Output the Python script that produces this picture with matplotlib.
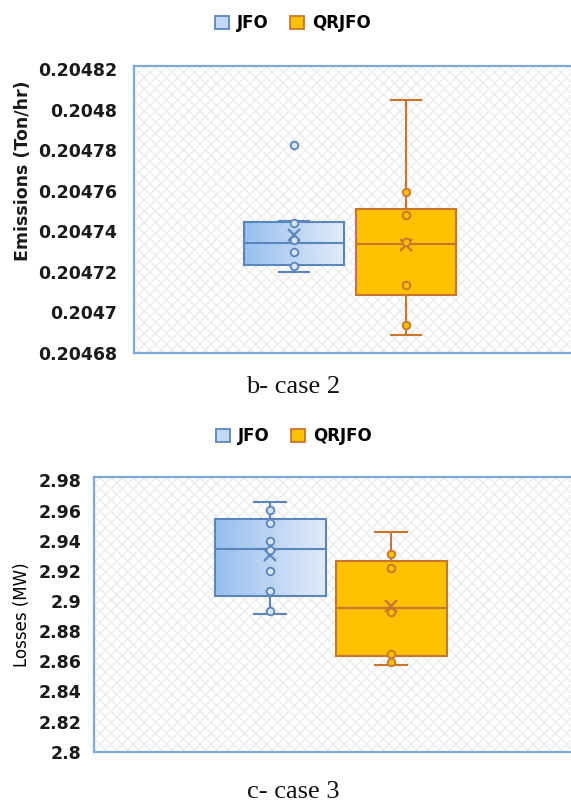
import numpy as np
import matplotlib
matplotlib.use("Agg")
import matplotlib.pyplot as plt
from matplotlib.patches import Patch, Rectangle
from matplotlib.colors import LinearSegmentedColormap

# ---------------- data ----------------
series = ["JFO", "QRJFO"]

# case 2 : emissions (Ton/hr)
emis_q1 = [0.2047234, 0.2047084]
emis_med = [0.2047339, 0.2047334]
emis_q3 = [0.2047443, 0.2047507]
emis_lo = [0.2047198, 0.2046888]
emis_hi = [0.2047449, 0.2048045]
emis_mean = [0.2047380, 0.2047331]
emis_pts_jfo = [0.2047826, 0.2047438, 0.2047356, 0.2047296, 0.2047226]
emis_pts_qrjfo = [0.2047594, 0.2047480, 0.2047347, 0.2047135, 0.2046936]
emis_ticks = [0.20468, 0.2047, 0.20472, 0.20474, 0.20476, 0.20478, 0.2048, 0.20482]
emis_ticklabels = ["0.20468", "0.2047", "0.20472", "0.20474", "0.20476", "0.20478", "0.2048", "0.20482"]

# case 3 : losses (MW)
loss_q1 = [2.9031, 2.8633]
loss_med = [2.9342, 2.8956]
loss_q3 = [2.9541, 2.9268]
loss_lo = [2.8917, 2.8576]
loss_hi = [2.9656, 2.9456]
loss_mean = [2.9308, 2.8965]
loss_pts_jfo = [2.9607, 2.9521, 2.9399, 2.9337, 2.9202, 2.9069, 2.8932]
loss_pts_qrjfo = [2.9315, 2.9220, 2.8925, 2.8651, 2.8596]
loss_ticks = [2.8, 2.82, 2.84, 2.86, 2.88, 2.9, 2.92, 2.94, 2.96, 2.98]
loss_ticklabels = ["2.8", "2.82", "2.84", "2.86", "2.88", "2.9", "2.92", "2.94", "2.96", "2.98"]

# ---------------- style ----------------
W, H = 571, 809
FONT = ["DejaVu Sans"]
blue_edge = "#5A86BE"
orange_fill = "#FFC000"
orange_edge = "#CB742C"
frame_col = "#7FA9DC"
hatch_col = "#ececec"
grad = LinearSegmentedColormap.from_list("g", ["#97BFEF", "#E1EBF9"])

plt.rcParams["font.family"] = FONT
plt.rcParams["hatch.linewidth"] = 1.0

fig = plt.figure(figsize=(W / 100, H / 100), dpi=100)


def px_axes(left, top, right, bottom):
    return fig.add_axes([left / W, 1 - bottom / H, (right - left) / W, (bottom - top) / H])


def draw_panel(ax, q1, med, q3, lo, hi, mean, pts_jfo, pts_qr, widths, capw, xlim, ylim,
               ticks, ticklabels, pad):
    positions = [1, 2]
    stats = []
    for i in range(2):
        stats.append(dict(med=med[i], q1=q1[i], q3=q3[i], whislo=lo[i], whishi=hi[i],
                          mean=mean[i], fliers=[]))
    # background hatch
    ax.add_patch(Rectangle((0, 0), 1, 1, transform=ax.transAxes, facecolor="white",
                           edgecolor=hatch_col, hatch="xxx", linewidth=0, zorder=0))
    for i, (col_edge, col_face) in enumerate([(blue_edge, "none"), (orange_edge, orange_fill)]):
        bp = ax.bxp([stats[i]], positions=[positions[i]], widths=widths, patch_artist=True,
                    showmeans=True, showfliers=False, capwidths=capw,
                    boxprops=dict(facecolor=col_face, edgecolor=col_edge, linewidth=1.5),
                    whiskerprops=dict(color=col_edge, linewidth=1.5),
                    capprops=dict(color=col_edge, linewidth=1.5),
                    medianprops=dict(color=col_edge, linewidth=1.5),
                    meanprops=dict(marker="x", markeredgecolor=col_edge, markersize=8,
                                   markeredgewidth=1.6, markerfacecolor="none"),
                    zorder=3)
        if i == 0:
            box = bp["boxes"][0]
            img = ax.imshow(np.linspace(0, 1, 256).reshape(1, -1), cmap=grad, aspect="auto",
                            extent=[positions[0] - widths / 2, positions[0] + widths / 2,
                                    q1[0], q3[0]], zorder=2, interpolation="bilinear")
            img.set_clip_path(box)
    ax.scatter([positions[0]] * len(pts_jfo), pts_jfo, s=30, facecolor="#D9E6F7",
               edgecolor=blue_edge, linewidth=1.3, zorder=5)
    ax.scatter([positions[1]] * len(pts_qr), pts_qr, s=30, facecolor=orange_fill,
               edgecolor=orange_edge, linewidth=1.3, zorder=5)
    ax.set_xlim(*xlim)
    ax.set_ylim(*ylim)
    ax.set_xticks([])
    ax.set_yticks(ticks)
    ax.set_yticklabels(ticklabels, fontweight="bold", fontsize=12.5, color="#1a1a1a")
    ax.tick_params(axis="y", length=0, pad=pad)
    for s in ax.spines.values():
        s.set_color(frame_col)
        s.set_linewidth(1.6)


# ---- top panel (case 2) ----
ax1 = px_axes(134, 66, 575, 353)
draw_panel(ax1, emis_q1, emis_med, emis_q3, emis_lo, emis_hi, emis_mean,
           emis_pts_jfo, emis_pts_qrjfo, widths=0.89, capw=0.27,
           xlim=(-0.43, 3.51), ylim=(0.2046798, 0.2048215),
           ticks=emis_ticks, ticklabels=emis_ticklabels, pad=12)
fig.text(23.5 / W, 1 - 171 / H, "Emissions (Ton/hr)", rotation=90, ha="center", va="center",
         fontsize=12.5, fontweight="bold", color="#1a1a1a")

# ---- bottom panel (case 3) ----
ax2 = px_axes(94, 477, 575, 752)
draw_panel(ax2, loss_q1, loss_med, loss_q3, loss_lo, loss_hi, loss_mean,
           loss_pts_jfo, loss_pts_qrjfo, widths=0.917, capw=0.27,
           xlim=(-0.455, 3.52), ylim=(2.7998, 2.9823),
           ticks=loss_ticks, ticklabels=loss_ticklabels, pad=9)
fig.text(22.5 / W, 1 - 615 / H, "Losses (MW)", rotation=90, ha="center", va="center",
         fontsize=12, color="#000000")

# ---- legends ----
handles = [Patch(facecolor="#C3D8F4", edgecolor=blue_edge, linewidth=1.3, label=series[0]),
           Patch(facecolor=orange_fill, edgecolor=orange_edge, linewidth=1.3, label=series[1])]
for ycen, xcen in [(23, 293), (436, 294)]:
    fig.legend(handles=handles, loc="center", bbox_to_anchor=(xcen / W, 1 - ycen / H),
               ncol=2, frameon=False, prop=dict(weight="bold", size=12),
               handlelength=0.8, handleheight=0.8, handletextpad=0.5, columnspacing=1.3)

# ---- captions ----
fig.text(293.5 / W, 1 - 387 / H, "b- case 2", ha="center", va="center",
         fontsize=19, family=["Liberation Serif", "DejaVu Serif"], color="#111111")
fig.text(293.5 / W, 1 - 792 / H, "c- case 3", ha="center", va="center",
         fontsize=19, family=["Liberation Serif", "DejaVu Serif"], color="#111111")

fig.savefig("out.png", dpi=100)
